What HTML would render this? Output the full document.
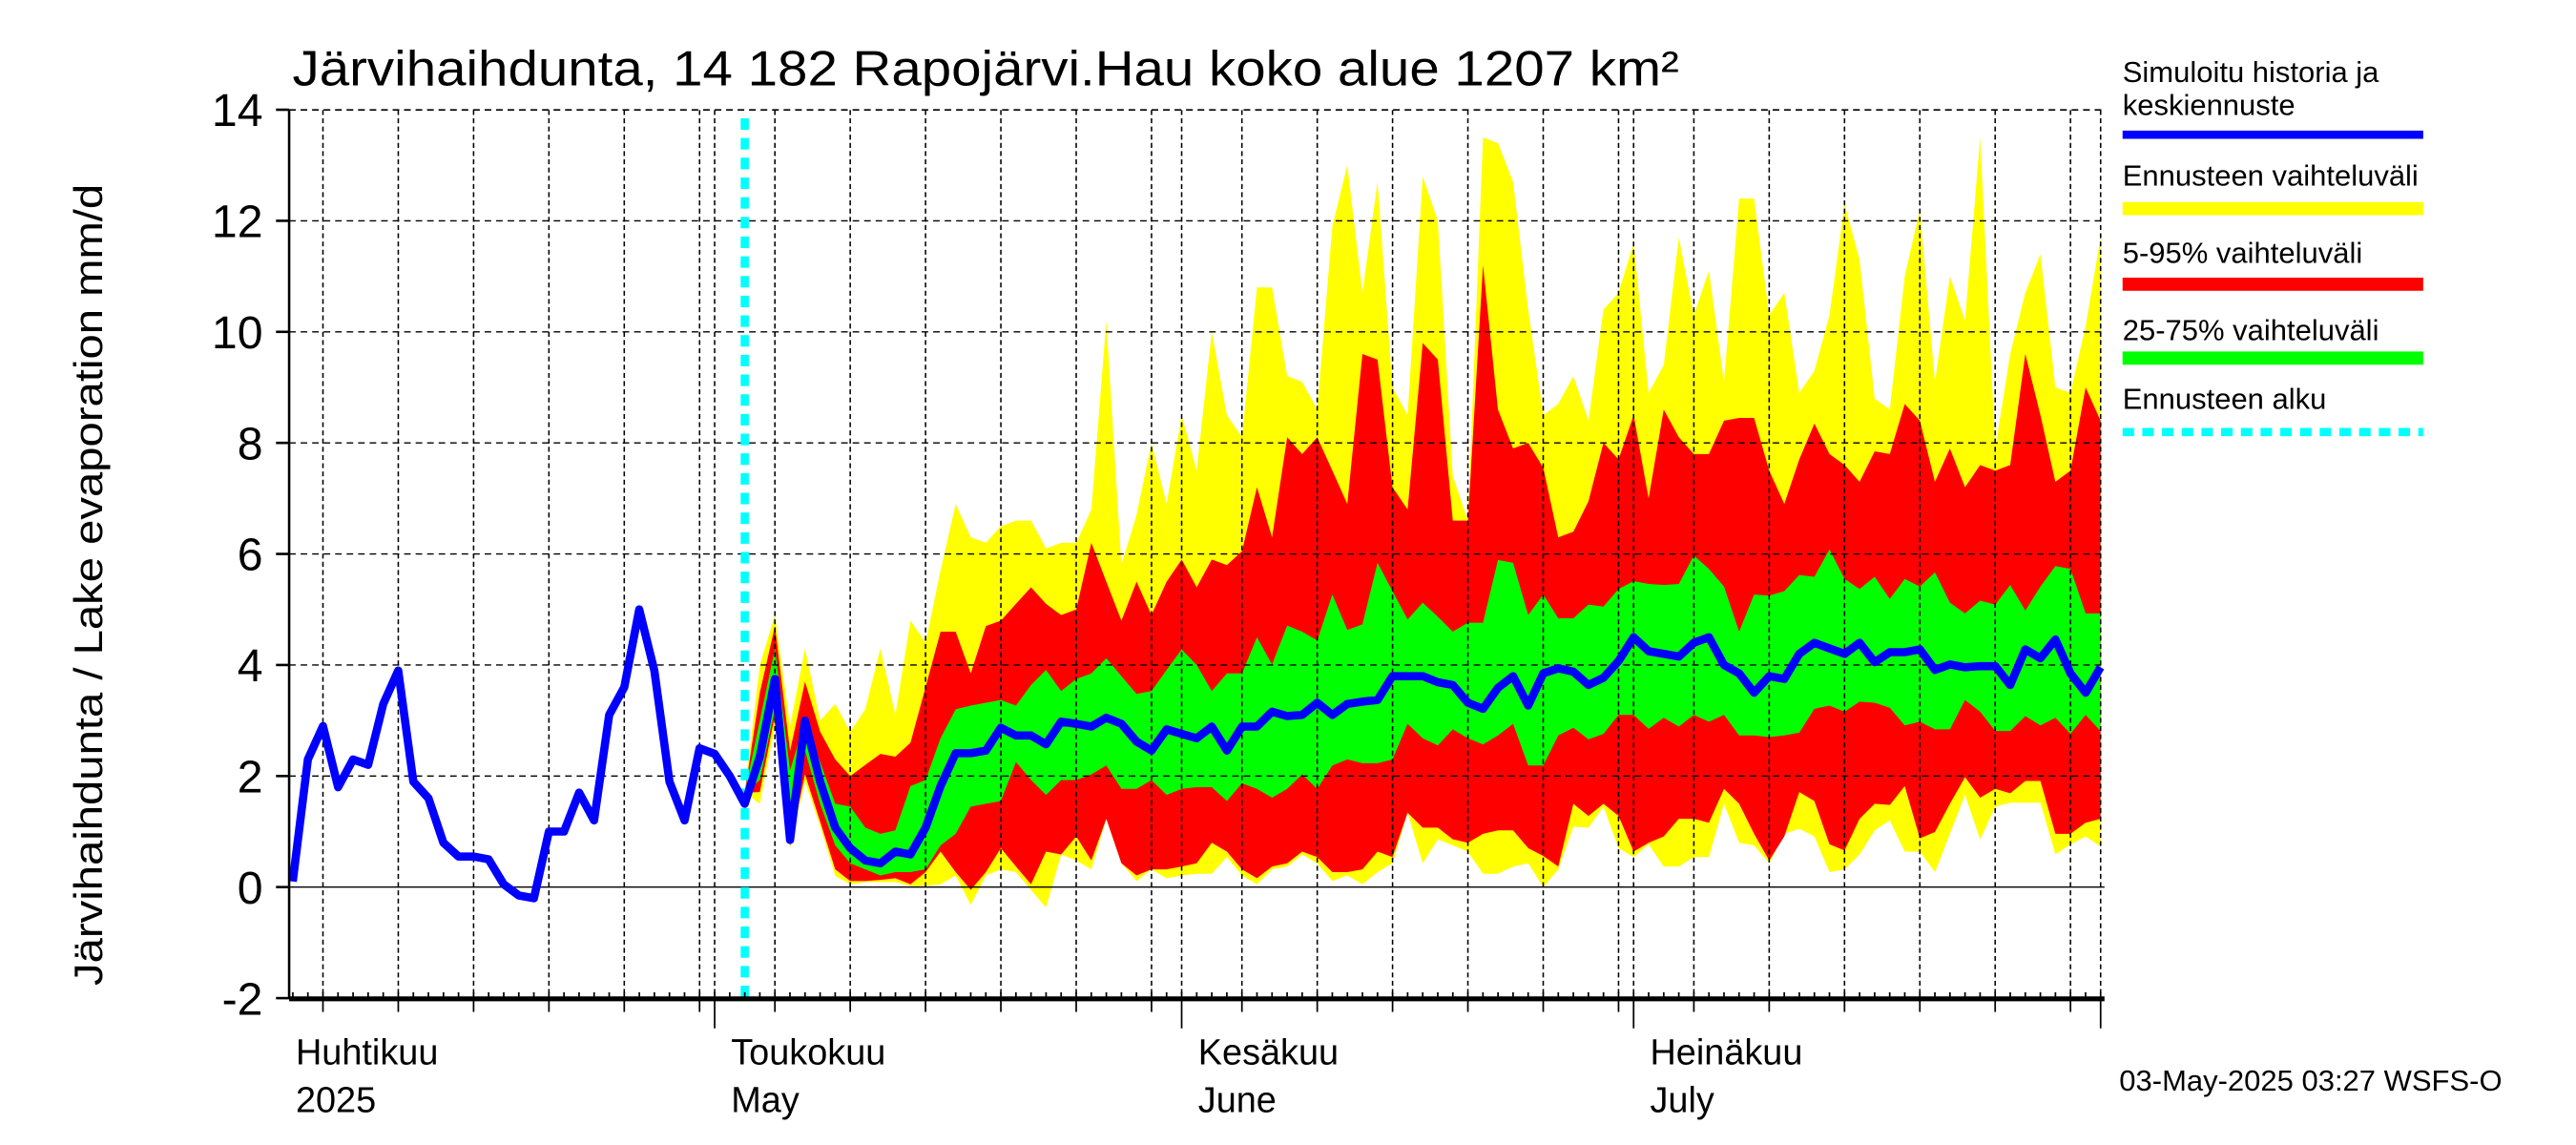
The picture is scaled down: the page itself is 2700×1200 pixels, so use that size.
<!DOCTYPE html>
<html><head><meta charset="utf-8"><style>
html,body{margin:0;padding:0;background:#fff;}
svg{display:block;font-family:"Liberation Sans",sans-serif;}
</style></head><body>
<svg id="chart" width="2700" height="1200" viewBox="0 0 1568 697" preserveAspectRatio="none" xmlns="http://www.w3.org/2000/svg">
<rect x="0" y="0" width="1568" height="697" fill="#fff"/>
<g id="bands"></g><g id="grid"></g><g id="lines"></g><g id="axes"></g>
<text x="178" y="52" font-size="30" textLength="844" lengthAdjust="spacingAndGlyphs">Järvihaihdunta, 14 182 Rapojärvi.Hau koko alue 1207 km²</text>
<text transform="translate(62,356) rotate(-90)" text-anchor="middle" font-size="24" textLength="488" lengthAdjust="spacingAndGlyphs">Järvihaihdunta / Lake evaporation   mm/d</text>
<g font-size="18">
<text x="1292" y="50">Simuloitu historia ja</text><text x="1292" y="70">keskiennuste</text>
<line x1="1292" y1="82" x2="1475" y2="82" stroke="#0000ff" stroke-width="5"/>
<text x="1292" y="113">Ennusteen vaihteluväli</text>
<line x1="1292" y1="127" x2="1475" y2="127" stroke="#ffff00" stroke-width="8"/>
<text x="1292" y="160">5-95% vaihteluväli</text>
<line x1="1292" y1="173" x2="1475" y2="173" stroke="#ff0000" stroke-width="8"/>
<text x="1292" y="207">25-75% vaihteluväli</text>
<line x1="1292" y1="218" x2="1475" y2="218" stroke="#00ff00" stroke-width="8"/>
<text x="1292" y="249">Ennusteen alku</text>
<line x1="1292" y1="263" x2="1475" y2="263" stroke="#00ffff" stroke-width="5" stroke-dasharray="7,5"/>
</g>
<text x="1290" y="664" font-size="18">03-May-2025 03:27 WSFS-O</text>
</svg>
<script>
const histDays=[-28,-27,-26,-25,-24,-23,-22,-21,-20,-19,-18,-17,-16,-15,-14,-13,-12,-11,-10,-9,-8,-7,-6,-5,-4,-3,-2,-1,0,1];
const histVals=[0.1,2.3,2.9,1.8,2.3,2.2,3.3,3.9,1.9,1.6,0.8,0.55,0.55,0.5,0.05,-0.15,-0.2,1.0,1.0,1.7,1.2,3.1,3.6,5.0,3.9,1.9,1.2,2.5,2.4,2.0];
const fcStartDay=2;
const ymax=[1.7,4.0,4.9,2.9,4.3,3.0,3.3,2.8,3.2,4.3,3.1,4.8,4.4,5.7,6.9,6.3,6.2,6.5,6.6,6.6,6.1,6.2,6.2,6.8,10.2,5.8,6.7,8.0,6.9,8.5,7.5,10.0,8.5,8.1,10.8,10.8,9.2,9.1,8.6,11.9,13.0,10.7,12.7,9.0,8.5,12.8,12.0,7.4,6.6,13.5,13.4,12.7,10.4,8.5,8.7,9.2,8.4,10.4,10.7,11.6,8.9,9.4,11.7,10.3,11.1,9.1,12.4,12.4,10.3,10.7,8.9,9.3,10.3,12.3,11.3,8.8,8.6,11.0,12.2,9.1,11.0,10.2,13.5,7.9,9.6,10.7,11.4,9.0,8.9,10.1,11.7];
const p95=[1.7,3.5,4.7,2.45,3.7,2.8,2.3,2.0,2.2,2.4,2.35,2.6,3.6,4.6,4.6,3.85,4.7,4.8,5.1,5.4,5.1,4.9,5.0,6.2,5.5,4.8,5.5,4.9,5.5,5.9,5.4,5.9,5.8,6.05,7.2,6.3,8.1,7.8,8.1,7.5,6.9,9.6,9.5,7.2,6.8,9.8,9.5,6.6,6.6,11.2,8.6,7.9,8.0,7.55,6.3,6.4,6.95,8.0,7.7,8.5,7.0,8.6,8.1,7.8,7.8,8.4,8.45,8.45,7.5,6.9,7.7,8.35,7.8,7.6,7.3,7.85,7.8,8.7,8.4,7.3,7.9,7.2,7.6,7.5,7.6,9.6,8.5,7.3,7.5,9.0,8.4];
const p75=[1.7,3.0,4.3,2.1,3.0,2.25,1.5,1.45,1.07,0.96,1.02,1.82,1.93,2.68,3.2,3.27,3.32,3.37,3.27,3.64,3.91,3.53,3.75,3.85,4.12,3.8,3.48,3.53,3.91,4.28,4.0,3.53,3.85,3.85,4.5,4.01,4.71,4.6,4.44,5.27,4.63,4.73,5.84,5.33,4.82,5.12,4.87,4.6,4.76,4.76,5.89,5.84,4.9,5.27,4.84,4.84,5.09,5.05,5.37,5.51,5.46,5.44,5.46,5.97,5.73,5.41,4.6,5.27,5.25,5.33,5.62,5.59,6.08,5.55,5.37,5.59,5.19,5.55,5.41,5.67,5.12,4.93,5.16,5.09,5.44,4.98,5.41,5.78,5.73,4.93,4.93];
const median=[1.5,2.35,3.75,0.85,3.0,1.9,1.07,0.7,0.48,0.43,0.64,0.59,1.07,1.82,2.41,2.41,2.46,2.87,2.73,2.73,2.57,2.98,2.94,2.89,3.05,2.94,2.62,2.46,2.84,2.76,2.68,2.89,2.46,2.89,2.89,3.16,3.08,3.1,3.32,3.1,3.3,3.34,3.37,3.8,3.8,3.8,3.69,3.64,3.32,3.21,3.59,3.8,3.27,3.85,3.94,3.88,3.64,3.77,4.07,4.5,4.25,4.2,4.15,4.4,4.5,4.0,3.85,3.5,3.8,3.75,4.2,4.4,4.3,4.2,4.4,4.05,4.23,4.23,4.28,3.91,4.01,3.96,3.98,3.98,3.64,4.28,4.12,4.46,3.85,3.5,3.96];
const p25=[1.7,1.93,3.21,0.86,2.46,1.5,0.75,0.43,0.32,0.21,0.27,0.27,0.32,0.75,0.96,1.45,1.5,1.55,2.25,1.93,1.66,1.93,1.93,2.03,2.19,1.77,1.77,1.93,1.66,1.77,1.8,1.8,1.55,1.87,1.77,1.61,1.77,2.03,1.77,2.19,2.3,2.23,2.23,2.3,2.94,2.68,2.55,2.84,2.68,2.57,2.73,2.94,2.19,2.19,2.73,2.87,2.66,2.76,3.1,3.1,2.85,3.05,2.89,3.1,2.98,3.1,2.73,2.73,2.7,2.73,2.78,3.21,3.27,3.16,3.34,3.32,3.23,2.91,2.98,2.84,2.84,3.37,3.16,2.81,2.81,3.08,2.91,3.05,2.76,3.1,2.81];
const p5=[1.7,1.71,3.1,0.75,2.03,1.18,0.32,0.11,0.11,0.13,0.16,0.05,0.27,0.64,0.27,-0.05,0.27,0.7,0.37,0.05,0.64,0.59,0.91,0.48,1.23,0.43,0.21,0.32,0.32,0.37,0.43,0.8,0.64,0.32,0.16,0.37,0.43,0.64,0.54,0.27,0.27,0.32,0.64,0.54,1.34,1.07,1.07,0.86,0.8,0.96,1.02,1.02,0.7,0.56,0.37,1.5,1.28,1.5,1.28,0.64,0.8,0.91,1.23,1.23,1.16,1.77,1.5,0.96,0.48,0.91,1.71,1.55,0.77,0.66,1.23,1.5,1.48,1.82,0.88,0.99,1.5,1.98,1.61,1.77,1.69,1.91,1.91,0.96,0.96,1.16,1.23];
const ymin=[1.7,1.5,2.9,0.7,1.9,1.1,0.2,0.05,0.09,0.09,0.09,0.02,0.02,0.05,0.21,-0.32,0.21,0.32,0.27,-0.05,-0.37,0.59,0.48,0.32,1.23,0.43,0.11,0.32,0.16,0.21,0.24,0.24,0.54,0.21,0.05,0.32,0.37,0.59,0.43,0.11,0.21,0.05,0.27,0.43,1.34,0.43,0.86,0.75,0.64,0.24,0.24,0.37,0.43,0,0.32,1.09,1.07,1.45,0.7,0.54,0.77,0.37,0.37,0.54,0.54,1.5,0.8,0.75,0.43,0.96,1.05,0.91,0.27,0.32,0.59,1.02,1.2,0.64,0.64,0.27,0.96,1.66,0.86,1.45,1.52,1.52,1.52,0.59,0.77,0.91,0.73];
const yTicks=[-2,0,2,4,6,8,10,12,14];
const months=[{name:"Huhtikuu",en:"2025",day:-30},{name:"Toukokuu",en:"May",day:0},{name:"Kesäkuu",en:"June",day:31},{name:"Heinäkuu",en:"July",day:61}];

const NS="http://www.w3.org/2000/svg";
const X0=176,X1=1281,YT=67,YB=608;
function xS(d){return 435+9.17*d;}
function yS(v){return 540-33.8*v;}
function mk(tag,attrs,parent){const e=document.createElementNS(NS,tag);for(const k in attrs)e.setAttribute(k,attrs[k]);parent.appendChild(e);return e;}
const bands=document.getElementById('bands'),grid=document.getElementById('grid'),lines=document.getElementById('lines'),axes=document.getElementById('axes');

function band(up,lo,color,name){
  let pts=[];
  for(let i=0;i<up.length;i++)pts.push(xS(fcStartDay+i).toFixed(1)+","+yS(up[i]).toFixed(1));
  for(let i=lo.length-1;i>=0;i--)pts.push(xS(fcStartDay+i).toFixed(1)+","+yS(lo[i]).toFixed(1));
  const p=mk('polygon',{points:pts.join(' '),fill:color},bands);
  
  
}
band(ymax,ymin,'#ffff00','forecast-range-band');
band(p95,p5,'#ff0000','band-5-95');
band(p75,p25,'#00ff00','band-25-75');

yTicks.forEach(v=>{
  const l=mk('line',{x1:X0,x2:X1,y1:yS(v),y2:yS(v),stroke:'#000','stroke-width':0.8,'stroke-dasharray':v===0?'none':'4,3'},grid);
  
  
  const t=mk('line',{x1:X0-8,x2:X0,y1:yS(v),y2:yS(v),stroke:'#000','stroke-width':1.5},axes);
  
  
  const lb=mk('text',{x:160,y:yS(v)+10,'text-anchor':'end','font-size':28},axes);
  lb.textContent=v;
  
  
});
const monthStarts=[-30,0,31,61,92];
for(let d=-29;d<=92;d++){
  const x=xS(d);if(x<X0||x>X1+0.5)continue;
  let dom=null,isStart=monthStarts.includes(d);
  for(let m=monthStarts.length-1;m>=0;m--){if(d>=monthStarts[m]){dom=d-monthStarts[m]+1;break;}}
  const five=(dom%5===0);
  if(isStart||five){
    const g=mk('line',{x1:x,x2:x,y1:YT,y2:YB,stroke:'#000','stroke-width':0.9,'stroke-dasharray':'3,2'},grid);
    
    
  }
  const tk=mk('line',{x1:x,x2:x,y1:YB-4,y2:isStart?YB+18:(five?YB+8:YB),stroke:'#000','stroke-width':1},axes);
  
  
}
months.forEach(m=>{
  const x=Math.max(xS(m.day)+10,180);
  const t1=mk('text',{x:x,y:648,'font-size':22},axes);t1.textContent=m.name;
  
  
  const t2=mk('text',{x:x,y:677,'font-size':22},axes);t2.textContent=m.en;
  
  
});
let fr=mk('line',{x1:X0,x2:X0,y1:YT,y2:YB,stroke:'#000','stroke-width':1.5},axes);


fr=mk('line',{x1:X0,x2:X1,y1:YB,y2:YB,stroke:'#000','stroke-width':3},axes);


fr=mk('line',{x1:X0,x2:X1,y1:YT,y2:YT,stroke:'#000','stroke-width':0.8,'stroke-dasharray':'4,3'},axes);



const fs=mk('line',{x1:xS(fcStartDay),x2:xS(fcStartDay),y1:YT+5,y2:YB,stroke:'#00ffff','stroke-width':5,'stroke-dasharray':'7,5'},lines);



let pts=[];
histDays.forEach((d,i)=>pts.push(xS(d).toFixed(1)+","+yS(histVals[i]).toFixed(1)));
median.forEach((v,i)=>pts.push(xS(fcStartDay+i).toFixed(1)+","+yS(v).toFixed(1)));
const ml=mk('polyline',{points:pts.join(' '),fill:'none',stroke:'#0000ff','stroke-width':5,'stroke-linejoin':'round'},lines);


</script>
</body></html>
